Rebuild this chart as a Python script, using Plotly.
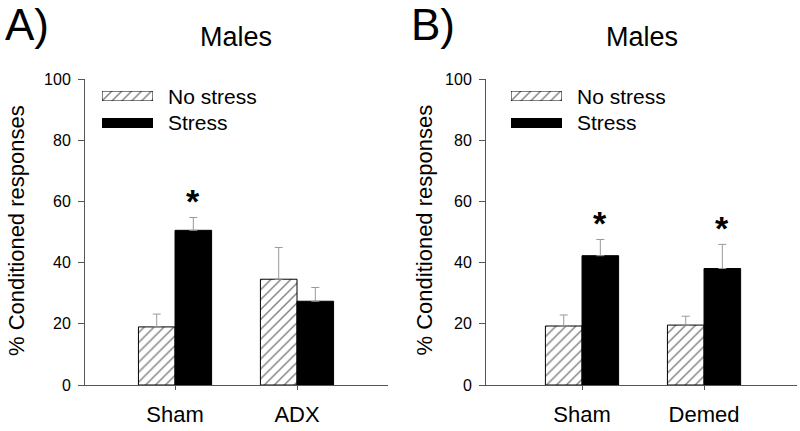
import plotly.graph_objects as go

# ---------------- data ----------------
series_names = ["No stress", "Stress"]

groups_a = ["Sham", "ADX"]
nostress_a = [19.0, 34.6]
nostress_a_err = [4.2, 10.4]
stress_a = [50.6, 27.4]
stress_a_err = [4.2, 4.5]
sig_a = [True, False]

groups_b = ["Sham", "Demed"]
nostress_b = [19.3, 19.6]
nostress_b_err = [3.6, 2.9]
stress_b = [42.3, 38.1]
stress_b_err = [5.3, 7.9]
sig_b = [True, True]

y_ticks = [0, 20, 40, 60, 80, 100]
panel_labels = ["A)", "B)"]
panel_titles = ["Males", "Males"]
y_title = "% Conditioned responses"

# ---------------- style ----------------
W, H = 800, 431
FONT = "Arial, 'Liberation Sans', sans-serif"
AXC = "#555555"
ERRC = "#999999"


def px(x):
    return x / W


def py(y):
    return (H - y) / H


hatch = dict(shape="/", fgcolor="black", bgcolor="white", size=7, solidity=0.2)
hatch_marker = dict(color="white", pattern=hatch, line=dict(color="black", width=1))
black_marker = dict(color="black", line=dict(color="black", width=1))

fig = go.Figure()

panels = [
    dict(groups=groups_a, ns=nostress_a, nse=nostress_a_err, s=stress_a, se=stress_a_err, sig=sig_a,
         xd=[px(85), px(388)], xr=[-0.738, 1.746], xa="x", ya="y", leg_x=102, txt_x=166,
         lab_x=3, ytitle_x=16.5),
    dict(groups=groups_b, ns=nostress_b, nse=nostress_b_err, s=stress_b, se=stress_b_err, sig=sig_b,
         xd=[px(486), px(797)], xr=[-0.787, 1.762], xa="x2", ya="y2", leg_x=511, txt_x=575,
         lab_x=409, ytitle_x=424),
]

ydom = [py(385), py(79.3)]
annotations = []
aux_idx = 3
for i, p in enumerate(panels):
    err_style = dict(type="data", symmetric=False, color=ERRC, thickness=1, width=4)
    fig.add_trace(go.Bar(x=p["groups"], y=p["ns"], name=series_names[0], marker=hatch_marker,
                         error_y=dict(array=p["nse"], arrayminus=[0] * len(p["nse"]), **err_style),
                         xaxis=p["xa"], yaxis=p["ya"], showlegend=False))
    fig.add_trace(go.Bar(x=p["groups"], y=p["s"], name=series_names[1], marker=black_marker,
                         error_y=dict(array=p["se"], arrayminus=[0] * len(p["se"]), **err_style),
                         xaxis=p["xa"], yaxis=p["ya"], showlegend=False))

    sfx = "" if i == 0 else "2"
    fig.update_layout(**{
        "xaxis" + sfx: dict(domain=p["xd"], range=p["xr"], showline=True, linecolor=AXC, linewidth=1,
                            ticks="outside", ticklen=4, tickcolor=AXC, showgrid=False, zeroline=False,
                            tickfont=dict(size=22, color="black", family=FONT), anchor=p["ya"],
                            ticklabelstandoff=6, fixedrange=True, automargin=False),
        "yaxis" + sfx: dict(domain=ydom, range=[0, 100], tickvals=y_ticks, showline=True, linecolor=AXC,
                            linewidth=1, ticks="outside", ticklen=6, tickcolor=AXC, showgrid=False,
                            zeroline=False, tickfont=dict(size=16, color="black", family=FONT),
                            anchor=p["xa"], ticklabelstandoff=4, fixedrange=True, automargin=False),
    })

    # significance asterisks
    for j, g in enumerate(p["groups"]):
        if p["sig"][j]:
            annotations.append(dict(x=j + 0.15, y=p["s"][j] + p["se"][j], xref=p["xa"], yref=p["ya"],
                                    text="<b>*</b>", showarrow=False, yanchor="bottom", yshift=-5,
                                    font=dict(size=34, color="black", family=FONT)))

    # panel label, title, y title
    annotations.append(dict(x=px(p["lab_x"]), y=py(25), xref="paper", yref="paper", text=panel_labels[i],
                            showarrow=False, xanchor="left", yanchor="middle",
                            font=dict(size=44, color="black", family=FONT)))
    annotations.append(dict(x=(p["xd"][0] + p["xd"][1]) / 2, y=py(37.5), xref="paper", yref="paper",
                            text=panel_titles[i], showarrow=False, xanchor="center", yanchor="middle",
                            font=dict(size=27, color="black", family=FONT)))
    annotations.append(dict(x=px(p["ytitle_x"]), y=py(230.5), xref="paper", yref="paper", text=y_title,
                            textangle=-90, showarrow=False, xanchor="center", yanchor="middle",
                            font=dict(size=22, color="black", family=FONT)))

    # legend swatches (drawn with the same bar styling on small hidden axes)
    for k, (mk, y0, y1) in enumerate([(hatch_marker, 91, 101), (black_marker, 118, 128)]):
        xs, ys = "xaxis%d" % aux_idx, "yaxis%d" % aux_idx
        fig.add_trace(go.Bar(x=[0], y=[1], width=[1], marker=mk, showlegend=False, hoverinfo="skip",
                             xaxis="x%d" % aux_idx, yaxis="y%d" % aux_idx))
        fig.update_layout(**{
            xs: dict(domain=[px(p["leg_x"]), px(p["leg_x"] + 51)], range=[-0.5, 0.5], visible=False,
                     anchor="y%d" % aux_idx, fixedrange=True),
            ys: dict(domain=[py(y1), py(y0)], range=[0, 1], visible=False, anchor="x%d" % aux_idx,
                     fixedrange=True),
        })
        annotations.append(dict(x=px(p["txt_x"]), y=py((y0 + y1) / 2), xref="paper", yref="paper",
                                text=series_names[k], showarrow=False, xanchor="left", yanchor="middle",
                                font=dict(size=21, color="black", family=FONT)))
        aux_idx += 1

fig.update_layout(
    width=W, height=H, margin=dict(l=0, r=0, t=0, b=0, pad=0, autoexpand=False),
    autosize=False,
    paper_bgcolor="white", plot_bgcolor="white",
    barmode="group", bargap=0.4, bargroupgap=0,
    font=dict(family=FONT, color="black"),
    annotations=annotations, showlegend=False,
)

fig.write_html("out.html", config={"displayModeBar": False, "responsive": False},
               post_script="document.body.style.margin='0';document.body.style.overflow='hidden';")
